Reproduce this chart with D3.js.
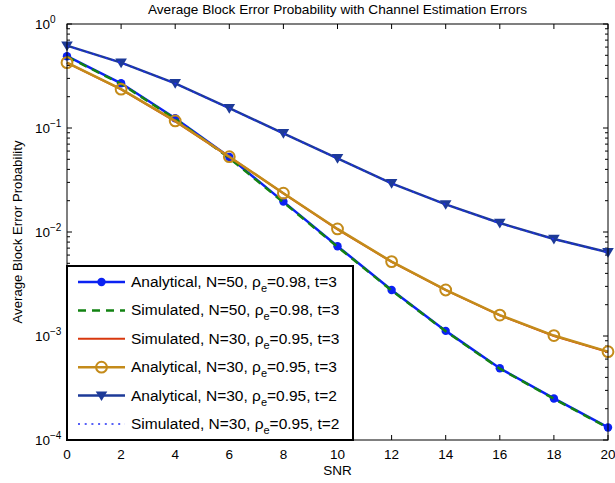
<!DOCTYPE html>
<html>
  <head>
    <meta charset="utf-8">
    <title>Average Block Error Probability</title>
    <script src="https://cdnjs.cloudflare.com/ajax/libs/d3/7.8.5/d3.min.js"></script>
    <style>
      body { margin: 0; background: #fff; }
      svg { font-family: "Liberation Sans", Arial, sans-serif; }
    </style>
  </head>
  <body>
    <svg id="chart" width="615" height="483"></svg>
    <script>
      // data
      var snr = [0, 2, 4, 6, 8, 10, 12, 14, 16, 18, 20];
      var anaN50t3 = [0.49, 0.269, 0.124, 0.0526, 0.0196, 0.0073, 0.00277, 0.00112, 0.000489, 0.000251, 0.000132];
      var simN50t3 = [0.485, 0.266, 0.122, 0.0515, 0.0193, 0.0072, 0.00274, 0.00111, 0.000485, 0.000249, 0.000131];
      var simN30t3 = [0.423, 0.235, 0.116, 0.0528, 0.0235, 0.0106, 0.00517, 0.00276, 0.00158, 0.00100, 0.000703];
      var anaN30t3 = [0.425, 0.236, 0.117, 0.053, 0.0236, 0.0107, 0.00519, 0.00277, 0.00159, 0.00101, 0.000707];
      var anaN30t2 = [0.619, 0.425, 0.269, 0.155, 0.0889, 0.0511, 0.0294, 0.01845, 0.0122, 0.00857, 0.00638];
      var simN30t2 = [0.617, 0.424, 0.268, 0.154, 0.0886, 0.0509, 0.0293, 0.0184, 0.0121, 0.00854, 0.00636];
      var xTicks = [0, 2, 4, 6, 8, 10, 12, 14, 16, 18, 20];
      var yDecades = [0, -1, -2, -3, -4];

      var series = [
        { name: "Analytical, N=50, ", rho: "=0.98, t=3", values: anaN50t3, color: "#0b22f2", width: 2.5, dash: null, marker: "dot" },
        { name: "Simulated, N=50, ", rho: "=0.98, t=3", values: simN50t3, color: "#128212", width: 2.5, dash: "8,6", marker: null },
        { name: "Simulated, N=30, ", rho: "=0.95, t=3", values: simN30t3, color: "#d8380e", width: 2, dash: null, marker: null },
        { name: "Analytical, N=30, ", rho: "=0.95, t=3", values: anaN30t3, color: "#c48b1a", width: 2.5, dash: null, marker: "ring" },
        { name: "Analytical, N=30, ", rho: "=0.95, t=2", values: anaN30t2, color: "#1d3a98", width: 2.5, dash: null, marker: "tri" },
        { name: "Simulated, N=30, ", rho: "=0.95, t=2", values: simN30t2, color: "#1f2cf5", width: 1.5, dash: "2,4.7", marker: null }
      ];

      var svg = d3.select("#chart");
      var pl = 67, pr = 608, pt = 24, pb = 440;
      var x = d3.scaleLinear().domain([0, 20]).range([pl, pr]);
      var y = d3.scaleLog().domain([1e-4, 1]).range([pb, pt]);

      // title
      svg.append("text")
        .attr("x", (pl + pr) / 2).attr("y", 14)
        .attr("text-anchor", "middle")
        .style("font-size", "13.6px")
        .text("Average Block Error Probability with Channel Estimation Errors");

      // ticks, inward on all four sides
      var ticks = svg.append("g").attr("stroke", "#000").attr("stroke-width", 1);
      xTicks.forEach(function(d) {
        ticks.append("line").attr("x1", x(d)).attr("x2", x(d)).attr("y1", pb).attr("y2", pb - 5);
        ticks.append("line").attr("x1", x(d)).attr("x2", x(d)).attr("y1", pt).attr("y2", pt + 5);
      });
      yDecades.forEach(function(e) {
        [pl, pr].forEach(function(px) {
          var dir = px === pl ? 1 : -1;
          ticks.append("line").attr("x1", px).attr("x2", px + dir * 5).attr("y1", y(Math.pow(10, e))).attr("y2", y(Math.pow(10, e)));
          if (e < 0) {
            d3.range(2, 10).forEach(function(m) {
              var v = m * Math.pow(10, e);
              ticks.append("line").attr("x1", px).attr("x2", px + dir * 3).attr("y1", y(v)).attr("y2", y(v));
            });
          }
        });
      });

      // tick labels
      svg.append("g").selectAll("text").data(xTicks).enter().append("text")
        .attr("x", function(d) { return x(d); })
        .attr("y", 459)
        .attr("text-anchor", "middle")
        .style("font-size", "13.5px")
        .text(function(d) { return d; });
      var yl = svg.append("g").selectAll("text").data(yDecades).enter().append("text")
        .attr("x", 35)
        .attr("y", function(e) { return y(Math.pow(10, e)) + 5; })
        .style("font-size", "13.5px");
      yl.append("tspan").text("10");
      yl.append("tspan").attr("dy", -6).style("font-size", "10px")
        .text(function(e) { return e === 0 ? "0" : "\u2212" + (-e); });

      // axis labels
      svg.append("text")
        .attr("x", (pl + pr) / 2).attr("y", 475)
        .attr("text-anchor", "middle")
        .style("font-size", "13.5px")
        .text("SNR");
      svg.append("text")
        .attr("transform", "translate(22," + ((pt + pb) / 2) + ") rotate(-90)")
        .attr("text-anchor", "middle")
        .style("font-size", "13.2px")
        .text("Average Block Error Probability");

      // lines and markers
      var line = d3.line()
        .x(function(d, i) { return x(snr[i]); })
        .y(function(d) { return y(d); });
      function drawMarker(g, kind, color, cx, cy) {
        if (kind === "dot") {
          g.append("circle").attr("cx", cx).attr("cy", cy).attr("r", 4.2).attr("fill", color);
        } else if (kind === "ring") {
          g.append("circle").attr("cx", cx).attr("cy", cy).attr("r", 5.4).attr("fill", "none").attr("stroke", color).attr("stroke-width", 2);
        } else if (kind === "tri") {
          g.append("path").attr("d", "M" + (cx - 5.8) + "," + (cy - 4.2) + "L" + (cx + 5.8) + "," + (cy - 4.2) + "L" + cx + "," + (cy + 5.5) + "Z").attr("fill", color);
        }
      }
      var plot = svg.append("g");
      series.forEach(function(s) {
        plot.append("path")
          .attr("d", line(s.values))
          .attr("fill", "none")
          .attr("stroke", s.color)
          .attr("stroke-width", s.width)
          .attr("stroke-dasharray", s.dash);
        if (s.marker) {
          s.values.forEach(function(v, i) { drawMarker(plot, s.marker, s.color, x(snr[i]), y(v)); });
        }
      });

      // axes box
      svg.append("rect")
        .attr("x", pl).attr("y", pt)
        .attr("width", pr - pl).attr("height", pb - pt)
        .attr("fill", "none").attr("stroke", "#000").attr("stroke-width", 1);

      // legend
      var legend = svg.append("g");
      legend.append("rect")
        .attr("x", 67).attr("y", 266).attr("width", 286).attr("height", 174)
        .attr("fill", "#fff").attr("stroke", "#000").attr("stroke-width", 2);
      series.forEach(function(s, i) {
        var ly = 282 + i * 28.4;
        legend.append("line")
          .attr("x1", 78).attr("x2", 125).attr("y1", ly).attr("y2", ly)
          .attr("stroke", s.color).attr("stroke-width", s.width)
          .attr("stroke-dasharray", s.dash);
        if (s.marker) drawMarker(legend, s.marker, s.color, 101.5, ly);
        var t = legend.append("text").attr("x", 131).attr("y", ly + 5).style("font-size", "15.5px");
        t.append("tspan").text(s.name + "\u03c1");
        t.append("tspan").attr("dy", 5).style("font-size", "11px").text("e");
        t.append("tspan").attr("dy", -5).text(s.rho);
      });
    </script>
  </body>
</html>
